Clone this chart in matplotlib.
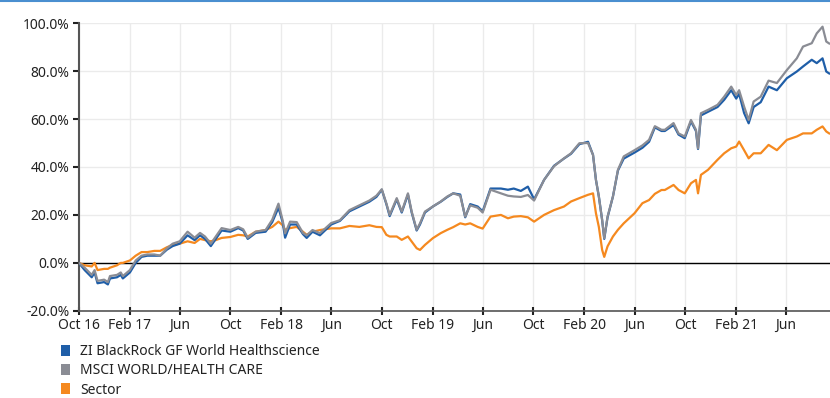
import numpy as np
import pandas as pd
import matplotlib
matplotlib.use("Agg")
import matplotlib.pyplot as plt
from matplotlib.patches import Patch
from matplotlib.ticker import FuncFormatter

plt.rcParams['font.family'] = ['Noto Sans', 'DejaVu Sans']

# cumulative performance in %, read at irregular dates
dates = [
    "2016-10-01", "2016-10-15", "2016-11-01", "2016-11-08", "2016-11-15", "2016-12-01",
    "2016-12-10", "2016-12-15", "2017-01-01", "2017-01-10", "2017-01-15", "2017-02-01",
    "2017-02-15", "2017-03-01", "2017-03-15", "2017-04-01", "2017-04-15", "2017-05-01",
    "2017-05-15", "2017-06-01", "2017-06-20", "2017-07-07", "2017-07-20", "2017-08-01",
    "2017-08-15", "2017-08-27", "2017-09-10", "2017-10-01", "2017-10-20", "2017-11-01",
    "2017-11-12", "2017-12-01", "2017-12-25", "2018-01-10", "2018-01-25", "2018-02-04",
    "2018-02-10", "2018-02-22", "2018-03-10", "2018-03-25", "2018-04-03", "2018-04-17",
    "2018-05-05", "2018-06-01", "2018-06-22", "2018-07-15", "2018-08-08", "2018-09-01",
    "2018-09-18", "2018-10-01", "2018-10-12", "2018-10-20", "2018-11-06", "2018-11-18",
    "2018-12-03", "2018-12-12", "2018-12-24", "2019-01-01", "2019-01-13", "2019-02-01",
    "2019-02-20", "2019-03-08", "2019-03-22", "2019-04-08", "2019-04-20", "2019-05-02",
    "2019-05-20", "2019-06-01", "2019-06-20", "2019-07-15", "2019-08-01", "2019-08-15",
    "2019-09-01", "2019-09-18", "2019-10-03", "2019-10-27", "2019-11-20", "2019-12-14",
    "2019-12-31", "2020-01-20", "2020-02-10", "2020-02-22", "2020-02-29", "2020-03-07",
    "2020-03-15", "2020-03-20", "2020-03-28", "2020-04-10", "2020-04-22", "2020-05-06",
    "2020-06-01", "2020-06-20", "2020-07-06", "2020-07-20", "2020-08-05", "2020-08-13",
    "2020-09-03", "2020-09-15", "2020-09-30", "2020-10-15", "2020-10-27", "2020-11-01",
    "2020-11-08", "2020-11-25", "2020-12-18", "2021-01-03", "2021-01-20", "2021-02-01",
    "2021-02-08", "2021-02-20", "2021-03-03", "2021-03-15", "2021-04-01", "2021-04-20",
    "2021-05-10", "2021-06-03", "2021-06-27", "2021-07-12", "2021-08-02", "2021-08-14",
    "2021-08-28", "2021-09-06", "2021-09-13",
]

fund = [
    0, -3, -6, -4, -8.5, -8,
    -9, -6.5, -6, -5, -6.5, -4,
    0, 2.5, 3, 3, 3, 5.5,
    7, 8, 11.5, 9.5, 11.5, 10,
    7, 10, 13.5, 13, 14.5, 13.5,
    10, 12.5, 13, 17, 23, 17,
    10.5, 16, 16, 12, 10.4, 13,
    11.5, 16, 17.5, 21.5, 23.5, 25.5,
    27.5, 30.5, 24.5, 19.5, 26.5, 21,
    28.5, 21, 13.5, 16, 21, 23.5,
    25.5, 27.5, 29, 28.5, 19, 24.5,
    23.5, 21.5, 31, 31, 30.5, 31,
    30, 31.8, 26.5, 34.6, 40.5, 43.5,
    45.5, 49.5, 50.5, 45, 34.6, 27.7,
    17.8, 10, 19, 27.7, 38.5, 43.5,
    46, 48, 50.5, 56.5, 55, 55,
    57.5, 53.5, 52, 59, 55, 47.5,
    61.5, 63, 65, 68, 72, 68.5,
    70.5, 62.5, 58.2, 65, 67, 73.5,
    72, 77, 79.8, 81.9, 84.7, 83.3,
    85.3, 79.8, 79,
]

msci = [
    0, -2, -5, -3, -7.5, -7,
    -8, -5.5, -5, -4, -5.5, -3,
    1, 3, 3.5, 3.5, 3, 6,
    8, 9, 13, 10.5, 12.5, 11,
    8, 11, 14.5, 13.7, 15, 14,
    10.5, 13, 13.7, 18, 24.7, 17.8,
    12.3, 17.2, 17, 12.5, 11.5, 13.7,
    12.4, 16.6, 17.8, 22, 24, 26,
    28, 30.7, 24.8, 20, 27, 21.4,
    29, 21.4, 13.8, 16.5, 21.4, 23.5,
    25.6, 27.7, 29, 28, 19.3, 24,
    23, 21, 30.5, 29, 28, 27.7,
    27.5, 28.3, 26, 34.6, 40.3, 43.6,
    45.7, 49.9, 50, 45, 34.6, 27.7,
    17.8, 10.3, 19.3, 27.7, 38.8, 44.4,
    47, 49, 51.3, 57, 55.5, 55.5,
    58.3, 54, 52.7, 59.6, 55.5, 47.8,
    62.4, 63.8, 65.9, 69.3, 73.5, 70,
    72, 65.2, 59.6, 67.3, 69.3, 76,
    75, 80.4, 85.3, 90.2, 91.6, 95.7,
    98.5, 92.3, 91.5,
]

sector = [
    0, -1, -1.5, 0, -3, -2.5,
    -2.5, -2, -1, 0, 0, 1,
    3, 4.5, 4.5, 5, 5, 6.5,
    7.5, 8, 9, 8.3, 10, 9.5,
    9, 9.5, 10.4, 10.8, 11.7, 11.5,
    11, 13, 13.7, 15, 17.2, 15.7,
    13.8, 14.5, 15, 13, 11.7, 13,
    13.7, 14.4, 14.4, 15.4, 15, 15.7,
    15, 14.9, 11.7, 11, 11, 9.6,
    11, 8.9, 6.1, 5.4, 7.5, 10.3,
    12.4, 13.8, 14.9, 16.5, 16, 16.5,
    15, 14.3, 19.3, 20, 18.6, 19.3,
    19.5, 19, 17.2, 20, 22, 23.5,
    25.6, 27, 28.4, 29, 20.7, 15,
    5.4, 2.5, 6.9, 11, 13.8, 16.5,
    20.7, 24.9, 26.2, 28.8, 30.4, 30.4,
    32.5, 30.4, 29, 33.2, 34.6, 29,
    36.7, 38.8, 43, 45.7, 47.8, 48.5,
    50.6, 47, 43.6, 45.7, 45.7, 49.2,
    47, 51.3, 52.7, 54, 54, 55.5,
    56.9, 54.8, 54,
]

series_names = ["ZI BlackRock GF World Healthscience", "MSCI WORLD/HEALTH CARE", "Sector"]
series_colors = ["#1f5ea8", "#8a8c94", "#f5891f"]

df = pd.DataFrame({"fund": fund, "msci": msci, "sector": sector}, index=pd.to_datetime(dates))

fig = plt.figure(figsize=(8.30, 3.98), dpi=100)
ax = fig.add_axes([0.095, 0.219, 0.905, 0.723])

# thin blue rule along the top edge
fig.add_artist(plt.Line2D([0, 1], [0.998, 0.998], color="#4a8fd0", lw=1.5,
                          transform=fig.transFigure))

ax.plot(df.index, df["sector"], color=series_colors[2], lw=1.6, zorder=3)
ax.plot(df.index, df["fund"], color=series_colors[0], lw=1.6, zorder=4)
ax.plot(df.index, df["msci"], color=series_colors[1], lw=1.6, zorder=5)

ax.axhline(0, color="black", lw=1.0, zorder=2)

ax.set_ylim(-20, 100)
ax.set_yticks(np.arange(-20, 101, 20))
ax.yaxis.set_major_formatter(FuncFormatter(lambda v, p: f"{v:.1f}%"))
ax.set_xlim(pd.Timestamp("2016-10-01"), pd.Timestamp("2021-09-15"))

ticks = pd.date_range("2016-10-01", "2021-06-01", freq="4MS")
ax.set_xticks(ticks)
labels = []
for i, t in enumerate(ticks):
    if i == 0 or t.month == 2:
        labels.append(t.strftime("%b %y"))
    else:
        labels.append(t.strftime("%b"))
ax.set_xticklabels(labels)

ax.grid(True, color="#ebebeb", lw=1.0, zorder=0)
ax.set_axisbelow(True)
for s in ["top", "right"]:
    ax.spines[s].set_visible(False)
ax.spines["left"].set_color("#555555")
ax.spines["left"].set_linewidth(1.5)
ax.spines["bottom"].set_color("#555555")
ax.spines["bottom"].set_linewidth(1.2)
ax.tick_params(axis="both", length=4, width=1.5, color="#222222",
               labelsize=10, labelcolor="#222222", pad=3)
ax.tick_params(axis="y", direction="out")
ax.tick_params(axis="x", direction="inout", length=6, pad=2)

handles = [Patch(facecolor=c, edgecolor="none") for c in series_colors]
fig.legend(handles, series_names, loc="upper left", bbox_to_anchor=(0.074, 0.136),
           frameon=False, fontsize=10, handlelength=0.62, handleheight=0.85,
           handletextpad=0.75, labelspacing=0.32, borderaxespad=0, borderpad=0,
           labelcolor="#222222")

fig.savefig("out.png", dpi=100)
